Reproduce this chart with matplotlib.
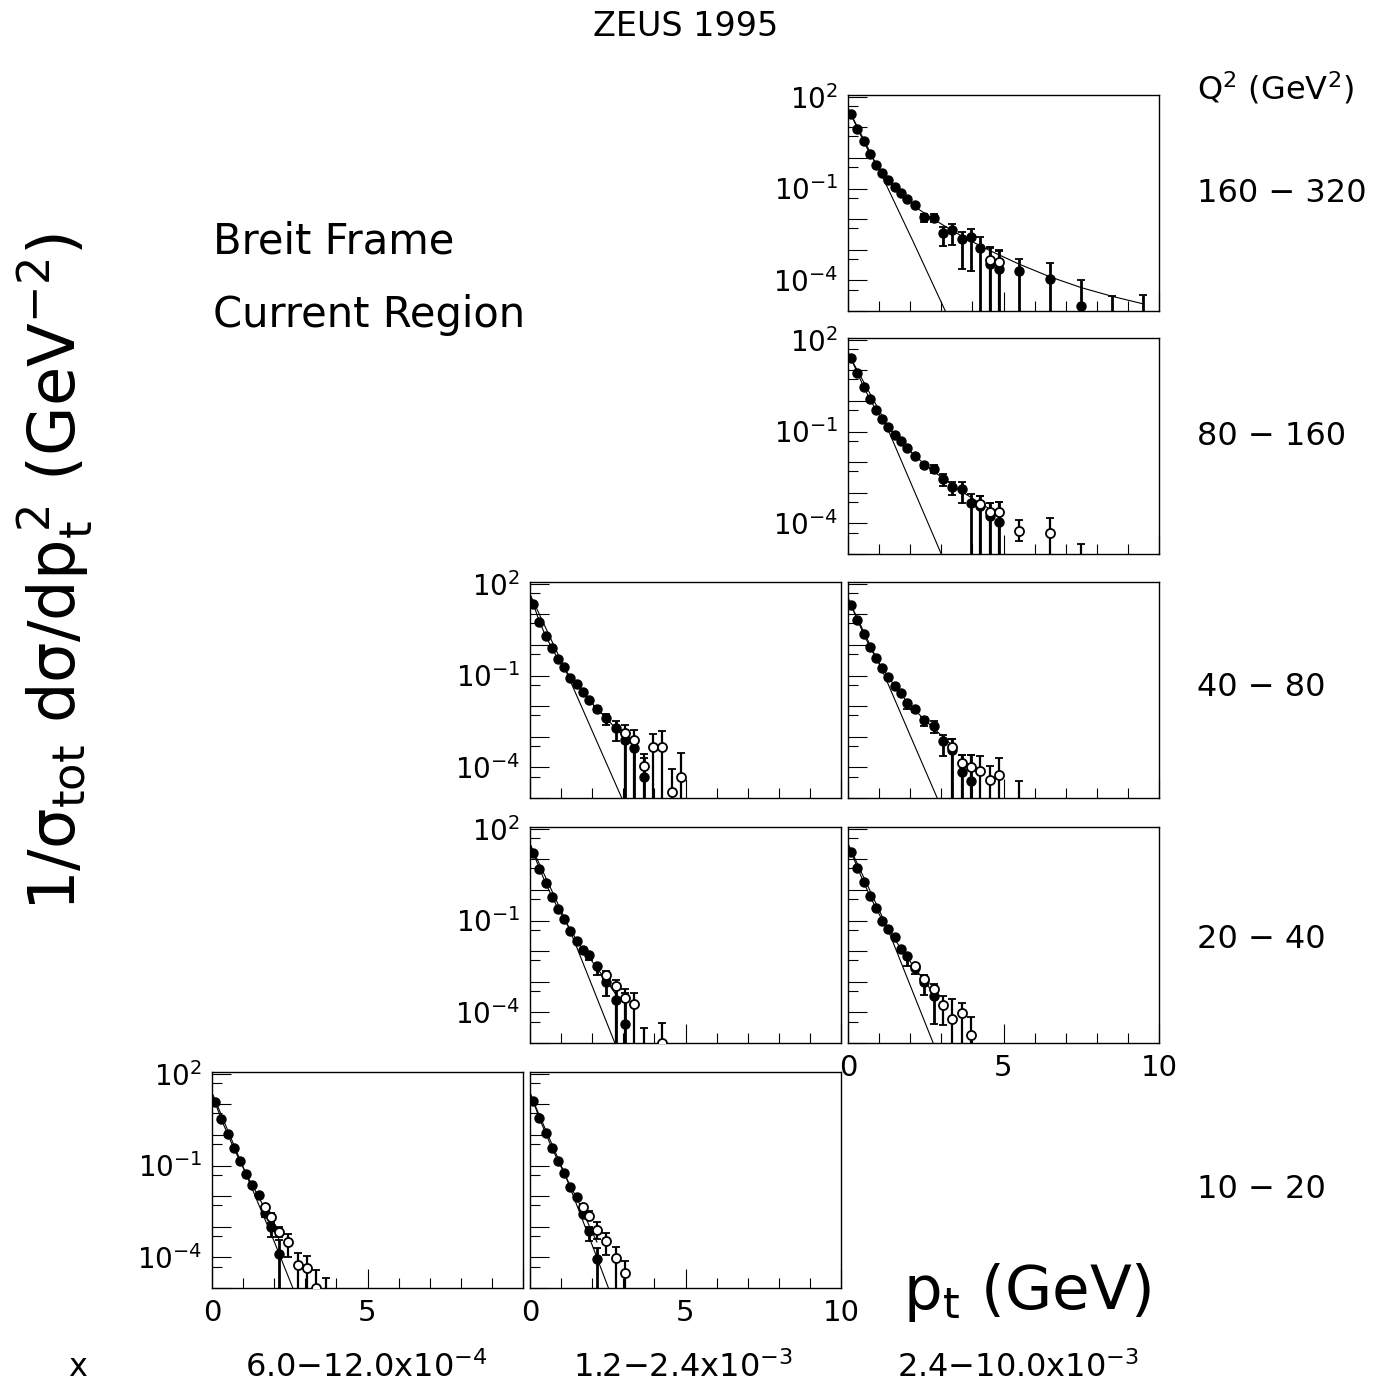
# ZEUS 1995 - charged particle pt^2 spectra, Breit frame current region
# grid of panels: rows = Q^2 bins, columns = x bins
import numpy as np
import matplotlib.pyplot as plt
from matplotlib.ticker import NullFormatter

plt.rcParams['font.family'] = 'DejaVu Sans'
plt.rcParams['mathtext.default'] = 'regular'

W, H = 1385, 1390

# pt bin centres (GeV)
pt_bins = [0.1, 0.3, 0.5, 0.7, 0.9, 1.1, 1.3, 1.5, 1.7, 1.9, 2.15, 2.45, 2.75,
           3.05, 3.35, 3.65, 3.95, 4.25, 4.55, 4.85, 5.5, 6.5, 7.5, 8.5, 9.5]

# --- Q2 160-320, x 2.4-10.0e-3
a_y = [28, 8.7, 3.5, 1.3, 0.59, 0.32, 0.19, 0.11, 0.074, 0.044, 0.030, 0.012, 0.011,
       0.0035, 0.0044, 0.0022, 0.0026, 0.0011, 3.5e-4, 2.4e-4, 2.1e-4, 1.1e-4, 1.5e-5, 3e-6, 3e-6]
a_hi = [28, 8.7, 3.5, 1.3, 0.59, 0.32, 0.19, 0.11, 0.074, 0.044, 0.030, 0.015, 0.015,
        0.0056, 0.0071, 0.0038, 0.0049, 0.0026, 0.0012, 9.5e-4, 5.1e-4, 3.7e-4, 1.0e-4, 3.0e-5, 3.4e-5]
a_lo = [28, 8.7, 3.5, 1.3, 0.59, 0.32, 0.19, 0.11, 0.074, 0.044, 0.030, 0.0081, 0.0081,
        0.0013, 0.0014, 2.4e-4, 2.1e-4, 0, 0, 0, 0, 0, 0, 0, 0]
a_opt = [4.55, 4.85]
a_oy = [4.5e-4, 4.0e-4]
a_ohi = [1.1e-3, 9e-4]
a_olo = [0, 0]
a_fit_pt = [0, 0.3, 0.5, 0.7, 0.9, 1.1, 1.3, 1.5, 1.7, 1.9, 2.3, 2.75, 3.3, 3.92, 4.57,
            5.5, 6.5, 7.5, 8.5, 9.5]
a_fit = [42, 9.5, 3.5, 1.4, 0.63, 0.33, 0.19, 0.12, 0.072, 0.045, 0.020, 0.010, 0.0045,
         0.0020, 9.3e-4, 3.4e-4, 1.3e-4, 5.8e-5, 3.0e-5, 1.7e-5]
a_soft_pt = [0, 1.1, 2.1, 3.2]
a_soft = [42, 0.25, 1.8e-3, 7e-6]

# --- Q2 80-160, x 2.4-10.0e-3
b_y = [26, 7.9, 2.9, 1.15, 0.50, 0.26, 0.14, 0.075, 0.048, 0.029, 0.016, 0.0078, 0.0060,
       0.0028, 0.0015, 0.0013, 4.8e-4, 3.7e-4, 1.7e-4, 1.1e-4]
b_hi = [26, 7.9, 2.9, 1.15, 0.50, 0.26, 0.14, 0.075, 0.048, 0.029, 0.016, 0.0095, 0.0078,
        0.0041, 0.0022, 0.0022, 9.1e-4, 7.9e-4, 4.8e-4, 5.0e-4]
b_lo = [26, 7.9, 2.9, 1.15, 0.50, 0.26, 0.14, 0.075, 0.048, 0.029, 0.016, 0.0063, 0.0045,
        0.0016, 8.3e-4, 4.5e-4, 0, 0, 0, 0]
b_opt = [4.25, 4.55, 4.85, 5.5, 6.5, 7.5]
b_oy = [4.3e-4, 2.3e-4, 2.3e-4, 5.6e-5, 5.0e-5, 3e-6]
b_ohi = [7.9e-4, 4.8e-4, 5.0e-4, 1.26e-4, 1.48e-4, 2.2e-5]
b_olo = [0, 0, 0, 2.6e-5, 0, 0]
b_fit_pt = [0, 0.3, 0.5, 0.7, 0.9, 1.1, 1.3, 1.5, 1.7, 1.9, 2.15, 2.45, 2.75, 3.05, 3.35,
            3.65, 3.95, 4.25, 4.55, 4.85]
b_fit = [40, 8.3, 2.95, 1.15, 0.51, 0.26, 0.14, 0.079, 0.047, 0.029, 0.016, 0.0089, 0.0050,
         0.0030, 0.0018, 0.0011, 7.1e-4, 4.5e-4, 3.0e-4, 2.0e-4]
b_soft_pt = [0, 1.1, 2.1, 3.05]
b_soft = [36, 0.32, 1.35e-3, 7.6e-6]

# --- Q2 40-80, x 1.2-2.4e-3
c_y = [22, 5.5, 2.0, 0.79, 0.35, 0.19, 0.081, 0.051, 0.028, 0.016, 0.0081, 0.0042, 0.0019,
       8.1e-4, 4.3e-4, 5.0e-5]
c_hi = [22, 5.5, 2.0, 0.79, 0.35, 0.19, 0.081, 0.051, 0.028, 0.016, 0.010, 0.0054, 0.0032,
        0.0017, 9.1e-4, 2.0e-4]
c_lo = [22, 5.5, 2.0, 0.79, 0.35, 0.19, 0.081, 0.051, 0.028, 0.016, 0.0066, 0.0024, 7.4e-4,
        0, 0, 0]
c_opt = [3.05, 3.35, 3.65, 3.95, 4.25, 4.55, 4.85]
c_oy = [1.35e-3, 7.8e-4, 1.1e-4, 4.6e-4, 4.6e-4, 1.6e-5, 4.8e-5]
c_ohi = [2.4e-3, 1.6e-3, 2.8e-4, 1.2e-3, 1.5e-3, 8.7e-5, 3.0e-4]
c_olo = [0, 0, 0, 0, 0, 0, 0]
c_fit_pt = [0, 0.3, 0.5, 0.7, 0.9, 1.1, 1.3, 1.5, 1.7, 1.9, 2.15, 2.45, 2.75, 3.05, 3.35]
c_fit = [45, 5.8, 2.0, 0.79, 0.35, 0.17, 0.089, 0.049, 0.028, 0.016, 0.0083, 0.0040, 0.0019,
         9.5e-4, 5.0e-4]
c_soft_pt = [0, 1.2, 2.1, 3.05]
c_soft = [45, 0.11, 9.1e-4, 5.9e-6]

# --- Q2 40-80, x 2.4-10.0e-3
d_y = [19.5, 6.6, 2.2, 0.83, 0.37, 0.17, 0.091, 0.044, 0.026, 0.013, 0.0078, 0.0035, 0.0022,
       7.1e-4, 3.8e-4, 6.9e-5, 3.5e-5]
d_hi = [19.5, 6.6, 2.2, 0.83, 0.37, 0.17, 0.091, 0.044, 0.026, 0.013, 0.0089, 0.0044, 0.0032,
        0.0011, 8.5e-4, 2.5e-4, 2.5e-4]
d_lo = [19.5, 6.6, 2.2, 0.83, 0.37, 0.17, 0.091, 0.044, 0.026, 0.0078, 0.0063, 0.0022, 0.00135,
        2.3e-4, 0, 0, 0]
d_opt = [3.35, 3.65, 3.95, 4.25, 4.55, 4.85, 5.5]
d_oy = [4.6e-4, 1.4e-4, 1.0e-4, 7.8e-5, 3.9e-5, 5.8e-5, 3e-6]
d_ohi = [8.5e-4, 2.6e-4, 2.6e-4, 2.3e-4, 1.15e-4, 2.0e-4, 3.5e-5]
d_olo = [0, 0, 0, 0, 0, 0, 0]
d_fit_pt = [0, 0.3, 0.5, 0.7, 0.9, 1.1, 1.3, 1.5, 1.7, 1.9, 2.15, 2.45, 2.75, 3.05, 3.35]
d_fit = [35, 6.6, 2.3, 0.87, 0.37, 0.18, 0.089, 0.046, 0.025, 0.014, 0.0074, 0.0037, 0.0019,
         1.0e-3, 5.2e-4]
d_soft_pt = [0, 1.11, 2.0, 3.0]
d_soft = [32, 0.14, 1.1e-3, 4.9e-6]

# --- Q2 20-40, x 1.2-2.4e-3
e_y = [16, 4.8, 1.66, 0.59, 0.23, 0.115, 0.046, 0.022, 0.011, 0.0072, 0.0032, 9.5e-4, 2.6e-4,
       4.2e-5]
e_hi = [16, 4.8, 1.66, 0.59, 0.23, 0.115, 0.046, 0.022, 0.011, 0.0089, 0.0039, 1.2e-3, 7.9e-4,
        4.3e-4]
e_lo = [16, 4.8, 1.66, 0.59, 0.23, 0.115, 0.046, 0.022, 0.011, 0.0052, 0.0017, 3.3e-4, 0, 0]
e_opt = [2.45, 2.75, 3.05, 3.35, 3.65, 4.25]
e_oy = [1.7e-3, 7.1e-4, 2.9e-4, 1.9e-4, 3e-6, 1.0e-5]
e_ohi = [2.3e-3, 1.1e-3, 5.8e-4, 4.3e-4, 3.2e-5, 4.4e-5]
e_olo = [1.3e-3, 0, 0, 0, 0, 0]
e_fit_pt = [0, 0.3, 0.5, 0.7, 0.9, 1.1, 1.3, 1.5, 1.7, 1.9, 2.15, 2.45, 2.75]
e_fit = [32, 5.0, 1.7, 0.62, 0.25, 0.107, 0.048, 0.023, 0.011, 0.0063, 0.0028, 0.0011, 4.0e-4]
e_soft_pt = [0, 1.23, 2.0, 2.85]
e_soft = [32, 0.066, 7.2e-4, 4.9e-6]

# --- Q2 20-40, x 2.4-10.0e-3
f_y = [17, 5.2, 1.78, 0.65, 0.25, 0.095, 0.051, 0.028, 0.012, 0.0068, 0.0028, 1.0e-3, 3.3e-4]
f_hi = [17, 5.2, 1.78, 0.65, 0.25, 0.095, 0.051, 0.028, 0.012, 0.0068, 0.0039, 1.7e-3, 6.2e-4]
f_lo = [17, 5.2, 1.78, 0.65, 0.25, 0.095, 0.051, 0.028, 0.012, 0.0032, 1.8e-3, 3.7e-4, 4.2e-5]
f_opt = [2.15, 2.45, 2.75, 3.05, 3.35, 3.65, 3.95]
f_oy = [3.2e-3, 1.2e-3, 5.9e-4, 1.7e-4, 6.0e-5, 9.3e-5, 1.8e-5]
f_ohi = [3.2e-3, 1.2e-3, 8.5e-4, 3.3e-4, 2.7e-4, 2.1e-4, 6.9e-5]
f_olo = [3.2e-3, 1.2e-3, 3.7e-4, 3.9e-5, 0, 0, 0]
f_fit_pt = [0, 0.3, 0.5, 0.7, 0.9, 1.1, 1.3, 1.5, 1.7, 1.9, 2.15, 2.45, 2.75]
f_fit = [32, 5.4, 1.8, 0.66, 0.25, 0.105, 0.050, 0.025, 0.012, 0.0063, 0.0028, 0.0011, 4.0e-4]
f_soft_pt = [0, 1.24, 2.0, 2.85]
f_soft = [32, 0.066, 7.6e-4, 5.2e-6]

# --- Q2 10-20, x 6.0-12.0e-4
g_y = [11.7, 3.3, 1.1, 0.37, 0.14, 0.052, 0.023, 0.0105, 0.0028, 9.5e-4, 1.3e-4]
g_hi = [11.7, 3.3, 1.1, 0.37, 0.14, 0.052, 0.023, 0.0105, 0.0031, 1.3e-3, 3.7e-4]
g_lo = [11.7, 3.3, 1.1, 0.37, 0.14, 0.052, 0.023, 0.0105, 0.0021, 4.8e-4, 0]
g_opt = [1.7, 1.9, 2.15, 2.45, 2.75, 3.05, 3.35, 3.65]
g_oy = [4.3e-3, 2.1e-3, 6.9e-4, 3.2e-4, 5.6e-5, 4.4e-5, 1.0e-5, 3e-6]
g_ohi = [4.3e-3, 2.75e-3, 1.0e-3, 5.9e-4, 1.35e-4, 1.15e-4, 3.9e-5, 2.2e-5]
g_olo = [4.3e-3, 2.1e-3, 4.8e-4, 1.05e-4, 0, 0, 0, 0]
g_fit_pt = [0, 0.3, 0.5, 0.7, 0.9, 1.1, 1.3, 1.5, 1.7, 1.9, 2.15]
g_fit = [22, 3.2, 1.07, 0.37, 0.14, 0.054, 0.022, 0.0095, 0.0038, 0.0014, 4.0e-4]
g_soft_pt = [0, 1.12, 2.0, 2.65]
g_soft = [24, 0.045, 3.3e-4, 7.4e-6]

# --- Q2 10-20, x 1.2-2.4e-3
h_y = [13.2, 3.5, 1.15, 0.37, 0.145, 0.059, 0.020, 0.0093, 0.0026, 7.4e-4, 8.7e-5]
h_hi = [13.2, 3.5, 1.15, 0.37, 0.145, 0.059, 0.020, 0.0093, 0.0026, 1.0e-3, 2.0e-4]
h_lo = [13.2, 3.5, 1.15, 0.37, 0.145, 0.059, 0.020, 0.0093, 0.0026, 3.5e-4, 0]
h_opt = [1.7, 1.9, 2.15, 2.45, 2.75, 3.05]
h_oy = [4.3e-3, 2.2e-3, 7.8e-4, 3.5e-4, 9.8e-5, 3.0e-5]
h_ohi = [4.3e-3, 3.2e-3, 1.4e-3, 6.2e-4, 2.2e-4, 7.8e-5]
h_olo = [4.3e-3, 2.2e-3, 4.0e-4, 1.2e-4, 0, 0]
h_fit_pt = [0, 0.3, 0.5, 0.7, 0.9, 1.1, 1.3, 1.5, 1.7, 1.9, 2.15]
h_fit = [25, 3.5, 1.15, 0.38, 0.145, 0.056, 0.021, 0.0089, 0.0032, 0.0011, 3.2e-4]
h_soft_pt = [0, 1.13, 2.0, 2.6]
h_soft = [22, 0.05, 2.5e-4, 6.2e-6]

q2_labels = ['160 \u2212 320', '80 \u2212 160', '40 \u2212 80', '20 \u2212 40', '10 \u2212 20']
x_labels = [r'6.0$-$12.0x10$^{-4}$', r'1.2$-$2.4x10$^{-3}$', r'2.4$-$10.0x10$^{-3}$']

# panel grid in pixels
col_left = [212, 530, 848]
row_top = [95, 338, 582, 827, 1072]
pw, ph = 311, 216

fig = plt.figure(figsize=(W / 100, H / 100), dpi=100)


def draw_panel(row, col, y, hi, lo, opt, oy, ohi, olo, fit_pt, fit, soft_pt, soft,
               ylabels, xlabels):
    ax = fig.add_axes([col_left[col] / W, 1 - (row_top[row] + ph) / H, pw / W, ph / H])
    ax.set_yscale('log')
    ax.set_xlim(0, 10)
    ax.set_ylim(1.05e-5, 1.13e2)

    ax.plot(soft_pt, soft, color='k', lw=0.8, zorder=2)
    ax.plot(fit_pt, fit, color='k', lw=0.8, zorder=2)

    y = np.array(y)
    lo = np.maximum(np.array(lo), 1e-8)
    hi = np.array(hi)
    pt = pt_bins[:len(y)]
    ax.errorbar(pt, y, yerr=[y - lo, hi - y], fmt='o', ms=6.5, mfc='k', mec='k',
                ecolor='k', elinewidth=2.0, capsize=2.8, capthick=1.3, zorder=3)

    oy = np.array(oy)
    olo = np.maximum(np.array(olo), 1e-8)
    ohi = np.array(ohi)
    ax.errorbar(opt, oy, yerr=[oy - olo, ohi - oy], fmt='o', ms=6.5, mfc='white', mec='k',
                mew=1.3, ecolor='k', elinewidth=1.6, capsize=2.8, capthick=1.3, zorder=4)

    decades = [1e-5, 1e-4, 1e-3, 1e-2, 1e-1, 1, 10, 100]
    ax.set_yticks(decades)
    if ylabels:
        names = {1e-4: r'$10^{-4}$', 1e-1: r'$10^{-1}$', 100: r'$10^{2}$'}
        ax.set_yticklabels([names.get(d, '') for d in decades])
    else:
        ax.set_yticklabels([''] * len(decades))
    ax.set_yticks([5e-5, 5e-4, 5e-3, 5e-2, 0.5, 5, 50], minor=True)
    ax.yaxis.set_minor_formatter(NullFormatter())

    ax.set_xticks([0, 5, 10])
    ax.set_xticks([1, 2, 3, 4, 6, 7, 8, 9], minor=True)
    if xlabels:
        ax.set_xticklabels(xlabels)
    else:
        ax.set_xticklabels(['', '', ''])

    ax.tick_params(which='both', direction='in', top=False, right=False, width=0.8)
    ax.tick_params(axis='x', which='major', length=14, pad=8, labelsize=21)
    ax.tick_params(axis='y', which='major', length=14, pad=7, labelsize=20)
    ax.tick_params(which='minor', length=7.5)
    for s in ax.spines.values():
        s.set_linewidth(1.0)
    return ax


draw_panel(0, 2, a_y, a_hi, a_lo, a_opt, a_oy, a_ohi, a_olo, a_fit_pt, a_fit,
           a_soft_pt, a_soft, True, None)
draw_panel(1, 2, b_y, b_hi, b_lo, b_opt, b_oy, b_ohi, b_olo, b_fit_pt, b_fit,
           b_soft_pt, b_soft, True, None)
draw_panel(2, 1, c_y, c_hi, c_lo, c_opt, c_oy, c_ohi, c_olo, c_fit_pt, c_fit,
           c_soft_pt, c_soft, True, None)
draw_panel(2, 2, d_y, d_hi, d_lo, d_opt, d_oy, d_ohi, d_olo, d_fit_pt, d_fit,
           d_soft_pt, d_soft, False, None)
draw_panel(3, 1, e_y, e_hi, e_lo, e_opt, e_oy, e_ohi, e_olo, e_fit_pt, e_fit,
           e_soft_pt, e_soft, True, None)
draw_panel(3, 2, f_y, f_hi, f_lo, f_opt, f_oy, f_ohi, f_olo, f_fit_pt, f_fit,
           f_soft_pt, f_soft, False, ['0', '5', '10'])
draw_panel(4, 0, g_y, g_hi, g_lo, g_opt, g_oy, g_ohi, g_olo, g_fit_pt, g_fit,
           g_soft_pt, g_soft, True, ['0', '5', ''])
draw_panel(4, 1, h_y, h_hi, h_lo, h_opt, h_oy, h_ohi, h_olo, h_fit_pt, h_fit,
           h_soft_pt, h_soft, False, ['0', '5', '10'])


def ftext(x, y, s, **kw):
    fig.text(x / W, 1 - y / H, s, **kw)


ftext(686, 27, 'ZEUS 1995', fontsize=24, ha='center', va='center')
ftext(1197, 88, r'Q$^2$ (GeV$^2$)', fontsize=23, ha='left', va='center')
for i, lab in enumerate(q2_labels):
    ftext(1197, [193, 437, 688, 939, 1189][i], lab, fontsize=23, ha='left', va='center')

ftext(213, 242, 'Breit Frame', fontsize=30, ha='left', va='center')
ftext(213, 315, 'Current Region', fontsize=30, ha='left', va='center')

ftext(78, 1368, 'x', fontsize=23, ha='center', va='center')
for i, lab in enumerate(x_labels):
    ftext([366, 683, 1018][i], 1368, lab, fontsize=23, ha='center', va='center')

ftext(55, 572, r'$1/\sigma_{tot}\ d\sigma/dp_t^{\,2}\ (GeV^{-2})$', fontsize=46,
      rotation=90, ha='center', va='center')
ftext(1027, 1293, r'$p_t$ (GeV)', fontsize=44, ha='center', va='center')

plt.savefig('out.png', dpi=100)
